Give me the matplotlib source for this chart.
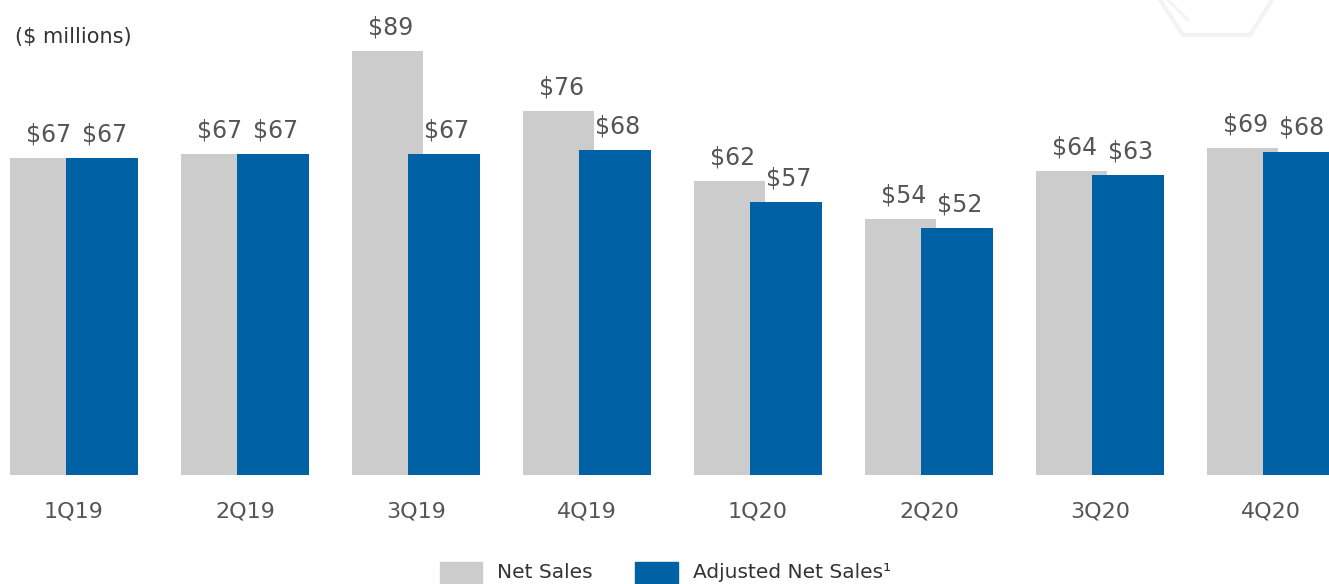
"""Quarterly net sales vs adjusted net sales bar chart."""

import matplotlib
matplotlib.use("Agg")
import matplotlib.pyplot as plt
from matplotlib.patches import Rectangle
from matplotlib.lines import Line2D
import numpy as np

quarters = ["1Q19", "2Q19", "3Q19", "4Q19", "1Q20", "2Q20", "3Q20", "4Q20"]
net_sales = [66.6, 67.4, 89.0, 76.4, 61.7, 53.7, 63.8, 68.6]
adj_net_sales = [66.6, 67.4, 67.4, 68.2, 57.3, 51.8, 63.0, 67.9]
net_labels = ["$67", "$67", "$89", "$76", "$62", "$54", "$64", "$69"]
adj_labels = ["$67", "$67", "$67", "$68", "$57", "$52", "$63", "$68"]

GREY = "#cdcccd"
BLUE = "#0061a5"
TEXT = "#555555"

plt.rcParams["font.family"] = ["DejaVu Sans"]

W, H = 1329, 584
fig = plt.figure(figsize=(W / 100, H / 100), dpi=100)
ax = fig.add_axes([0, (H - 475) / H, 1, 475 / H])

x = np.arange(len(quarters))
width = 0.418
ax.bar(x - 0.167, net_sales, width, color=GREY, zorder=1)
ax.bar(x + 0.164, adj_net_sales, width, color=BLUE, zorder=2)

for i in range(len(quarters)):
    ax.annotate(net_labels[i], (x[i] - 0.15, net_sales[i]), xytext=(0, 17),
                textcoords="offset points", ha="center", va="center",
                fontsize=17, color=TEXT)
    ax.annotate(adj_labels[i], (x[i] + 0.18, adj_net_sales[i]), xytext=(0, 17),
                textcoords="offset points", ha="center", va="center",
                fontsize=17, color=TEXT)

ax.set_xlim(-74 / 171, (W - 74) / 171)
ax.set_ylim(0, 475 / 4.764)
ax.set_xticks(x)
ax.set_xticklabels(quarters, fontsize=16, color=TEXT)
ax.tick_params(axis="x", length=0, pad=19)
ax.set_yticks([])
for s in ax.spines.values():
    s.set_visible(False)
ax.patch.set_alpha(0)

fig.text(15 / W, 1 - 37 / H, "($ millions)", fontsize=15, color="#333333",
         ha="left", va="center")

# legend
fig.patches.append(Rectangle((440 / W, -0.03), 42 / W, 0.03 + 22 / H,
                             transform=fig.transFigure, color=GREY))
fig.text(497 / W, 11 / H, "Net Sales", fontsize=14.5, color="#333333",
         ha="left", va="center")
fig.patches.append(Rectangle((635 / W, -0.03), 43 / W, 0.03 + 22 / H,
                             transform=fig.transFigure, color=BLUE))
fig.text(693 / W, 11 / H, "Adjusted Net Sales\u00b9", fontsize=14.5,
         color="#333333", ha="left", va="center")

# faint hexagon decoration, top right
hx = np.array([1160, 1183, 1250, 1272]) / W
hy = 1 - np.array([0, 35, 35, 0]) / H
fig.add_artist(Line2D(hx, hy, transform=fig.transFigure, color="#f3f3f3", lw=3))
fig.add_artist(Line2D(np.array([1168, 1188]) / W, 1 - np.array([0, 20]) / H,
                      transform=fig.transFigure, color="#f3f3f3", lw=2))

fig.savefig("out.png", dpi=100)
